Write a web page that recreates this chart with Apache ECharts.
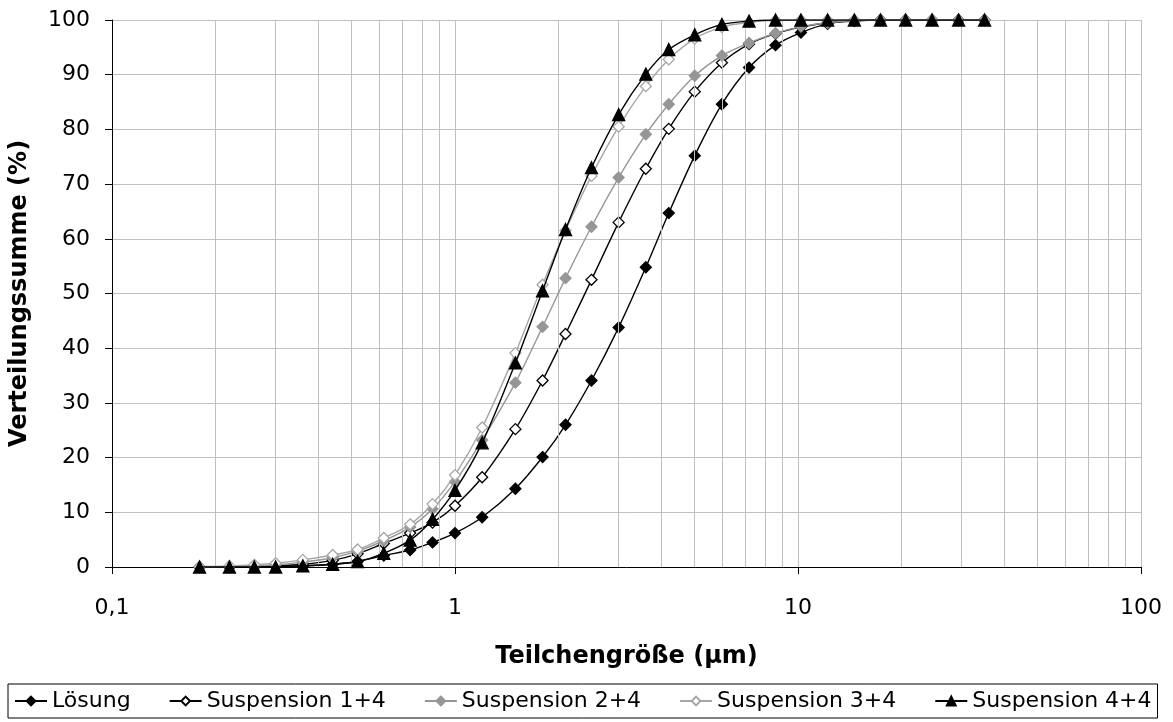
<!DOCTYPE html>
<html>
<head>
<meta charset="utf-8">
<script src="https://cdn.jsdelivr.net/npm/echarts@6/dist/echarts.min.js"></script>
<style>
html,body{margin:0;padding:0;background:#fff;}
#chart{width:1173px;height:722px;}
</style>
</head>
<body>
<div id="chart"></div>
<script>
// Particle size classes (µm)
const sizes = [0.18,0.22,0.26,0.30,0.36,0.44,0.52,0.62,0.74,0.86,1.0,1.2,1.5,1.8,2.1,2.5,3.0,3.6,4.2,5.0,6.0,7.2,8.6,10.2,12.2,14.6,17.4,20.6,24.6,29.4,35.0];
// Cumulative distribution (%)
const loesung = [0,0,0,0.1,0.2,0.5,1.0,2.1,3.1,4.5,6.2,9.1,14.3,20.1,26.0,34.1,43.8,54.8,64.7,75.2,84.6,91.3,95.4,97.7,99.3,99.8,100,100,100,100,100];
const susp14  = [0,0,0.1,0.2,0.5,1.2,2.4,4.3,6.2,8.1,11.2,16.4,25.2,34.1,42.6,52.5,63.0,72.8,80.1,86.9,92.2,95.6,97.5,98.7,99.5,99.9,100,100,100,100,100];
const susp24  = [0,0.1,0.2,0.4,0.9,1.7,2.9,4.8,7.3,10.6,15.6,23.2,33.7,43.9,52.8,62.2,71.2,79.1,84.6,89.8,93.5,95.8,97.6,98.8,99.5,99.9,100,100,100,100,100];
const susp34  = [0.1,0.2,0.4,0.7,1.3,2.2,3.2,5.3,7.8,11.5,16.8,25.5,39.1,51.6,61.5,71.5,80.5,87.9,92.8,96.6,98.7,99.6,99.9,100,100,100,100,100,100,100,100];
const susp44  = [0,0,0,0,0.2,0.5,1.0,2.5,4.9,8.7,14.0,22.7,37.3,50.5,61.7,73.0,82.7,90.1,94.6,97.3,99.2,99.8,100,100,100,100,100,100,100,100,100];
const seriesNames = ['Lösung','Suspension 1+4','Suspension 2+4','Suspension 3+4','Suspension 4+4'];
// Minor gridline values for the logarithmic x axis
const minorGrid = [];
[0.1,1,10].forEach(d => { for (let k = 2; k <= 9; k++) minorGrid.push(+(d*k).toFixed(2)); });

const FONT = 'DejaVu Sans';
const pairs = arr => sizes.map((s,i) => [s, arr[i]]);

const styles = [
  {data: loesung, color:'#000000', line:'#000000', symbol:'diamond', fill:'#000000', size:11},
  {data: susp14,  color:'#000000', line:'#000000', symbol:'diamond', fill:'#ffffff', size:11},
  {data: susp24,  color:'#969696', line:'#969696', symbol:'diamond', fill:'#969696', size:11},
  {data: susp34,  color:'#a6a6a6', line:'#a6a6a6', symbol:'diamond', fill:'#ffffff', size:11},
  {data: susp44,  color:'#000000', line:'#000000', symbol:'triangle', fill:'#000000', size:12}
];

const series = styles.map((s, i) => ({
  name: seriesNames[i],
  type: 'line',
  data: pairs(s.data),
  smooth: 0.3,
  symbol: s.symbol,
  symbolSize: s.size,
  showAllSymbol: true,
  z: 3 + i,
  lineStyle: {color: s.line, width: 1.4},
  itemStyle: {color: s.fill, borderColor: s.color, borderWidth: 1.3}
}));

series.unshift({
  type: 'line',
  data: [],
  z: 1,
  silent: true,
  markLine: {
    silent: true,
    symbol: ['none','none'],
    label: {show: false},
    animation: false,
    lineStyle: {color:'#c0c0c0', type:'solid', width:1},
    data: minorGrid.map(v => ({xAxis: v}))
  }
});

const chart = echarts.init(document.getElementById('chart'));
chart.setOption({
  animation: false,
  backgroundColor: '#ffffff',
  grid: {left: 112, right: 32, top: 20, bottom: 155},
  legend: {
    data: seriesNames,
    left: 8,
    bottom: 4,
    itemWidth: 32,
    itemHeight: 11,
    itemGap: 38,
    padding: [6, 6, 6, 6],
    borderColor: '#000',
    borderWidth: 1,
    textStyle: {fontFamily: FONT, fontSize: 22, color: '#000'}
  },
  xAxis: {
    type: 'log',
    logBase: 10,
    min: 0.1,
    max: 100,
    name: 'Teilchengröße (µm)',
    nameLocation: 'middle',
    nameGap: 78,
    nameTextStyle: {fontFamily: FONT, fontSize: 24, fontWeight: 'bold', color: '#000'},
    axisLine: {lineStyle: {color: '#000', width: 1}},
    axisTick: {show: true, inside: false, length: 7, lineStyle: {color: '#000'}},
    axisLabel: {
      fontFamily: FONT, fontSize: 22, color: '#000', margin: 30,
      formatter: v => String(v).replace('.', ',')
    },
    splitLine: {show: true, lineStyle: {color: '#c0c0c0', width: 1}}
  },
  yAxis: {
    type: 'value',
    min: 0,
    max: 100,
    interval: 10,
    name: 'Verteilungssumme (%)',
    nameLocation: 'middle',
    nameGap: 80,
    nameRotate: 90,
    nameTextStyle: {fontFamily: FONT, fontSize: 24, fontWeight: 'bold', color: '#000'},
    axisLine: {show: true, lineStyle: {color: '#000', width: 1}},
    axisTick: {show: true, inside: false, length: 7, lineStyle: {color: '#000'}},
    axisLabel: {fontFamily: FONT, fontSize: 22, color: '#000', margin: 22},
    splitLine: {show: true, lineStyle: {color: '#c0c0c0', width: 1}}
  },
  series: series
});
</script>
</body>
</html>
